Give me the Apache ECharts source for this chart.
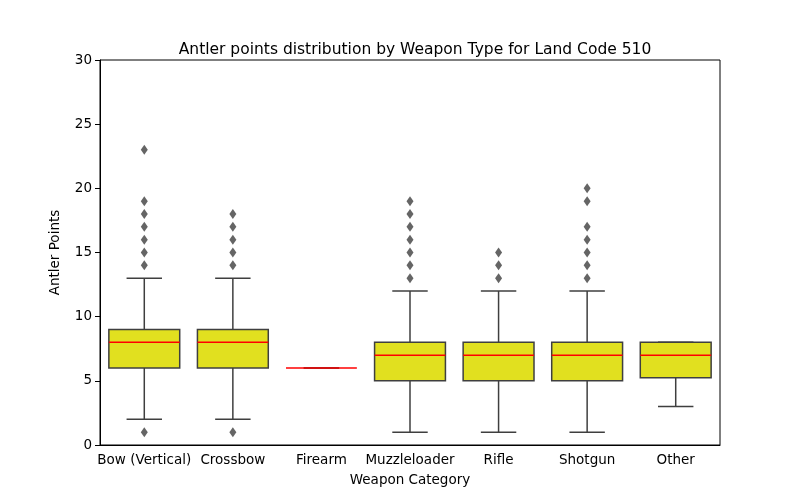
<!DOCTYPE html>
<html><head><meta charset="utf-8">
<script src="https://cdn.jsdelivr.net/npm/echarts@6/dist/echarts.min.js"></script>
<style>html,body{margin:0;background:#fff}#c{width:800px;height:500px}</style>
</head><body><div id="c"></div>
<script>
const categories = ['Bow (Vertical)', 'Crossbow', 'Firearm', 'Muzzleloader', 'Rifle', 'Shotgun', 'Other'];
// [lower whisker, Q1, median, Q3, upper whisker]
const boxes = [
  [2, 6, 8, 9, 13],
  [2, 6, 8, 9, 13],
  [6, 6, 6, 6, 6],
  [1, 5, 7, 8, 12],
  [1, 5, 7, 8, 12],
  [1, 5, 7, 8, 12],
  [3, 5.25, 7, 8, 8]
];
const outliers = [
  [1, 14, 15, 16, 17, 18, 19, 23],
  [1, 14, 15, 16, 17, 18],
  [],
  [13, 14, 15, 16, 17, 18, 19],
  [13, 14, 15],
  [13, 14, 15, 16, 17, 19, 20],
  []
];

const boxData = boxes.map((b, i) => [i].concat(b));
const outData = [];
outliers.forEach((arr, i) => arr.forEach(v => outData.push([i, v])));

const chart = echarts.init(document.getElementById('c'));
const edge = '#3f3f3f';
const font = { fontFamily: 'DejaVu Sans', fontSize: 13.5, color: '#000' };
chart.setOption({
  animation: false,
  title: { text: 'Antler points distribution by Weapon Type for Land Code 510', left: 410, top: 37, textAlign: 'center',
    textStyle: { fontFamily: 'DejaVu Sans', fontSize: 15.5, fontWeight: 'normal', color: '#000' } },
  grid: { left: 100, right: 80, top: 60, bottom: 55, show: true, borderColor: '#000', borderWidth: 1 },
  xAxis: { type: 'category', data: categories, name: 'Weapon Category', nameLocation: 'middle', nameGap: 28,
    nameTextStyle: font,
    axisLine: { lineStyle: { color: '#000' } }, axisTick: { alignWithLabel: true, lineStyle: { color: '#000' } },
    axisLabel: Object.assign({ interval: 0 }, font), splitLine: { show: false } },
  yAxis: { type: 'value', min: 0, max: 30, interval: 5, name: 'Antler Points', nameLocation: 'middle', nameGap: 38,
    nameTextStyle: font,
    axisLine: { show: true, lineStyle: { color: '#000' } }, axisTick: { show: true, lineStyle: { color: '#000' } },
    axisLabel: font, splitLine: { show: false } },
  series: [
    {
      type: 'custom',
      data: boxData,
      encode: { x: 0, y: [1, 2, 3, 4, 5] },
      renderItem: function (params, api) {
        const i = api.value(0);
        const bw = api.size([1, 0])[0] * 0.8;
        const p = k => api.coord([i, api.value(k)]);
        const lo = p(1), q1 = p(2), md = p(3), q3 = p(4), hi = p(5);
        const x = lo[0], hw = bw / 2, cw = bw / 4;
        const ls = { stroke: edge, lineWidth: 1.5 };
        const children = [
          { type: 'line', shape: { x1: x, y1: lo[1], x2: x, y2: q1[1] }, style: ls },
          { type: 'line', shape: { x1: x, y1: q3[1], x2: x, y2: hi[1] }, style: ls },
          { type: 'line', shape: { x1: x - cw, y1: lo[1], x2: x + cw, y2: lo[1] }, style: ls },
          { type: 'line', shape: { x1: x - cw, y1: hi[1], x2: x + cw, y2: hi[1] }, style: ls }
        ];
        if (q1[1] - q3[1] > 0.5) {
          children.push({ type: 'rect', shape: { x: x - hw, y: q3[1], width: bw, height: q1[1] - q3[1] },
            style: { fill: '#e1e01f', stroke: edge, lineWidth: 1.5 } });
        }
        children.push({ type: 'line', shape: { x1: x - hw, y1: md[1], x2: x + hw, y2: md[1] },
          style: { stroke: '#ff0000', lineWidth: 1.5 } });
        return { type: 'group', children: children };
      }
    },
    {
      type: 'scatter',
      data: outData,
      symbol: 'diamond',
      symbolSize: [7, 10],
      itemStyle: { color: edge }
    }
  ]
});
</script></body></html>
